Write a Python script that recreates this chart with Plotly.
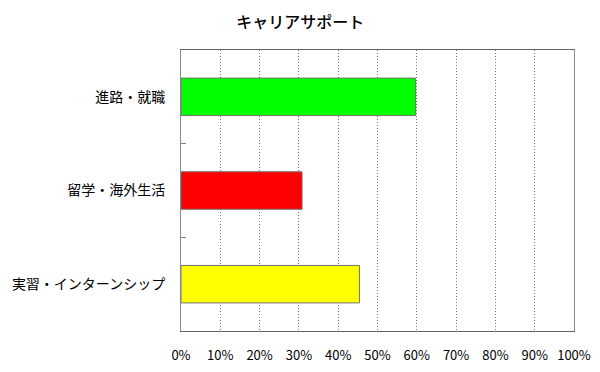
import plotly.graph_objects as go

categories = ["進路・就職", "留学・海外生活", "実習・インターンシップ"]
values = [59.7, 30.8, 45.4]
colors = ["#00FF00", "#FF0000", "#FFFF00"]
tick_vals = [0, 10, 20, 30, 40, 50, 60, 70, 80, 90, 100]
tick_text = [f"{v}%" for v in tick_vals]
title = "キャリアサポート"

fig = go.Figure(go.Bar(
    y=categories, x=values, orientation="h",
    marker=dict(color=colors, line=dict(color="#707070", width=1)),
    width=0.4,
))

font = "Noto Sans CJK JP"
fig.update_layout(
    width=600, height=372,
    margin=dict(l=173, r=34, t=42, b=49, autoexpand=False),
    paper_bgcolor="white", plot_bgcolor="white",
    title=dict(text=title, x=0.487, xanchor="center", xref="container",
               y=0.962, yref="container", yanchor="middle",
               font=dict(family=font, size=16, color="black", weight=500)),
    font=dict(family=font, size=12, color="black"),
    showlegend=False,
    xaxis=dict(range=[0, 100], tickvals=tick_vals, ticktext=tick_text,
               showgrid=True, gridcolor="#777777", griddash="1px,2px", gridwidth=1,
               showline=True, linecolor="#666660", mirror=True, linewidth=1,
               ticks="outside", ticklen=12, tickcolor="rgba(0,0,0,0)",
               zeroline=False, tickfont=dict(size=13), automargin=False),
    yaxis=dict(categoryorder="array", categoryarray=categories[::-1],
               showline=True, linecolor="#888888", mirror=True, linewidth=1,
               ticks="inside", ticklen=5, tickcolor="#808080", tickson="boundaries",
               showgrid=False, tickfont=dict(size=14), ticklabelstandoff=12,
               automargin=False),
)
fig.write_html("out.html")
